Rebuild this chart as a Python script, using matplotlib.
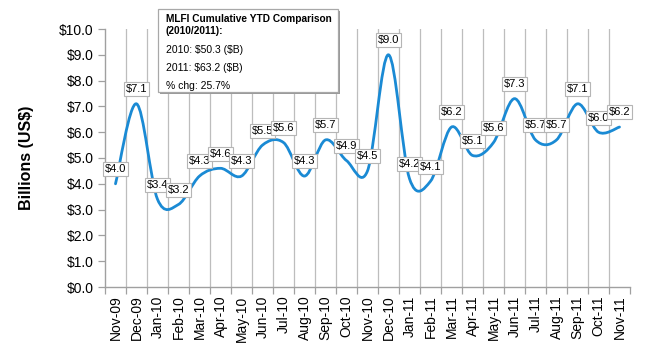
import numpy as np
import matplotlib
matplotlib.use('Agg')
import matplotlib.pyplot as plt
from matplotlib.path import Path
from matplotlib.patches import PathPatch, Rectangle


# chart data
months = ['Nov-09', 'Dec-09', 'Jan-10', 'Feb-10', 'Mar-10', 'Apr-10', 'May-10',
          'Jun-10', 'Jul-10', 'Aug-10', 'Sep-10', 'Oct-10', 'Nov-10', 'Dec-10',
          'Jan-11', 'Feb-11', 'Mar-11', 'Apr-11', 'May-11', 'Jun-11', 'Jul-11',
          'Aug-11', 'Sep-11', 'Oct-11', 'Nov-11']
values = [4.0, 7.1, 3.4, 3.2, 4.3, 4.6, 4.3, 5.5, 5.6, 4.3, 5.7, 4.9, 4.5,
          9.0, 4.2, 4.1, 6.2, 5.1, 5.6, 7.3, 5.7, 5.7, 7.1, 6.0, 6.2]
y_ticks = [0, 1, 2, 3, 4, 5, 6, 7, 8, 9, 10]
note_title = 'MLFI Cumulative YTD Comparison\n(2010/2011):'
note_lines = ['2010: \\$50.3 (\\$B)', '2011: \\$63.2 (\\$B)', '% chg: 25.7%']

LINE_COLOR = '#1a8ad4'
GRID_COLOR = '#bdbdbd'

plt.rcParams['font.family'] = ['Liberation Sans', 'DejaVu Sans']


def smooth_path(xs, ys):
    """Excel-like smoothed line: cubic Bezier through each point."""
    pts = np.column_stack([xs, ys]).astype(float)
    n = len(pts)
    verts = [pts[0]]
    codes = [Path.MOVETO]
    for i in range(n - 1):
        p_prev = pts[i - 1] if i > 0 else pts[i]
        p_next2 = pts[i + 2] if i + 2 < n else pts[i + 1]
        c1 = pts[i] + (pts[i + 1] - p_prev) / 6.0
        c2 = pts[i + 1] - (p_next2 - pts[i]) / 6.0
        verts += [c1, c2, pts[i + 1]]
        codes += [Path.CURVE4] * 3
    return Path(verts, codes)


fig = plt.figure(figsize=(6.5, 3.5), dpi=100)
ax = fig.add_axes([105 / 650, 1 - 287 / 350, 525 / 650, 258 / 350])

x = np.arange(len(months))
ax.set_xlim(-0.5, len(months) - 0.5)
ax.set_ylim(0, 10)

# vertical gridlines at category boundaries
for b in np.arange(0.5, len(months) - 1, 1.0):
    ax.axvline(b, color=GRID_COLOR, lw=0.9, zorder=1)

line = PathPatch(smooth_path(x, values), fc='none', ec=LINE_COLOR, lw=2.0,
                 capstyle='round', zorder=3)
ax.add_patch(line)

for xi, v in zip(x, values):
    ax.annotate('${:.1f}'.format(v), (xi, v), xytext=(0, 10.5),
                textcoords='offset points', ha='center', va='center',
                fontsize=8, zorder=5,
                bbox={'boxstyle': 'square,pad=0.18', 'fc': 'white',
                      'ec': '#b5b5b5', 'lw': 0.8})

ax.set_yticks(y_ticks)
ax.set_yticklabels(['${:.1f}'.format(t) for t in y_ticks], fontsize=10)
ax.set_xticks(x)
ax.set_xticklabels(months, rotation=90, fontsize=10)
ax.set_xticks(np.arange(-0.5, len(months), 1.0), minor=True)
ax.tick_params(axis='x', which='major', length=0, pad=6)
ax.tick_params(axis='x', which='minor', length=5, color='#a0a0a0', width=0.9)
ax.tick_params(axis='y', length=5, color='#a0a0a0', width=0.9, pad=3)

for s in ['top', 'right']:
    ax.spines[s].set_visible(False)
for s in ['left', 'bottom']:
    ax.spines[s].set_color('#a0a0a0')
    ax.spines[s].set_linewidth(1.0)

fig.text(27 / 650, 1 - 158 / 350, 'Billions (US$)', rotation=90,
         fontsize=11.5, fontweight='bold', ha='center', va='center')

# comparison note box
bx0, by0, bw, bh = 158 / 650, 1 - 92 / 350, 180 / 650, 83 / 350
shadow = Rectangle((bx0 + 1.5 / 650, by0 - 1.5 / 350), bw, bh,
                   transform=fig.transFigure, fc='#9a9a9a', ec='none',
                   zorder=8)
box = Rectangle((bx0, by0), bw, bh, transform=fig.transFigure,
                fc='white', ec='#a8a8a8', lw=0.9, zorder=9)
fig.patches.extend([shadow, box])
fig.text(166 / 650, 1 - 14 / 350, note_title, fontsize=7.3,
         fontweight='bold', va='top', ha='left', zorder=10,
         linespacing=1.25)
for k, t in enumerate(note_lines):
    fig.text(166 / 650, 1 - (50 + 18 * k) / 350, t, fontsize=7.5,
             va='center', ha='left', zorder=10)

fig.savefig('out.png', dpi=100)
